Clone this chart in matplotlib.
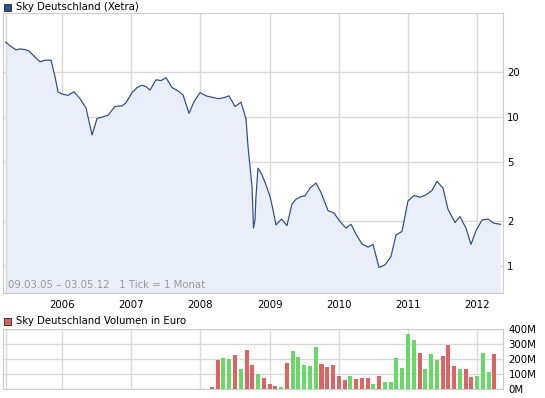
import numpy as np
import matplotlib
matplotlib.use("Agg")
import matplotlib.pyplot as plt
from matplotlib.patches import Rectangle

# price (decimal year, EUR)
price_t = [2005.186, 2005.249, 2005.335, 2005.393, 2005.480, 2005.523, 2005.610, 2005.682,
           2005.754, 2005.841, 2005.899, 2005.942, 2006.000, 2006.087, 2006.173, 2006.260,
           2006.347, 2006.434, 2006.506, 2006.578, 2006.665, 2006.766, 2006.867, 2006.925,
           2007.012, 2007.084, 2007.156, 2007.214, 2007.272, 2007.358, 2007.431, 2007.503,
           2007.590, 2007.676, 2007.749, 2007.835, 2007.908, 2007.994, 2008.081, 2008.168,
           2008.254, 2008.341, 2008.413, 2008.500, 2008.587, 2008.659, 2008.688, 2008.717,
           2008.746, 2008.767, 2008.789, 2008.803, 2008.832, 2008.890, 2008.948, 2009.006,
           2009.049, 2009.092, 2009.172, 2009.251, 2009.324, 2009.382, 2009.454, 2009.512,
           2009.584, 2009.671, 2009.743, 2009.844, 2009.931, 2010.017, 2010.104, 2010.176,
           2010.249, 2010.335, 2010.422, 2010.494, 2010.581, 2010.668, 2010.754, 2010.827,
           2010.913, 2011.000, 2011.087, 2011.173, 2011.260, 2011.347, 2011.419, 2011.506,
           2011.578, 2011.679, 2011.751, 2011.838, 2011.910, 2011.983, 2012.069, 2012.156,
           2012.243, 2012.336]
price = [31.9, 30.1, 28.3, 28.7, 28.3, 27.8, 25.3, 23.5,
         24.1, 24.1, 18.7, 14.8, 14.3, 14.0, 14.8, 13.3,
         11.5, 7.6, 9.8, 10.0, 10.3, 11.8, 11.9, 12.5,
         14.6, 15.8, 16.4, 16.0, 15.2, 17.8, 17.6, 18.4,
         15.8, 15.0, 14.1, 10.6, 12.7, 14.6, 13.9, 13.6,
         13.3, 13.5, 13.9, 11.8, 12.6, 9.7, 6.35, 4.66,
         3.43, 1.80, 2.04, 2.93, 4.55, 4.10, 3.51, 2.93,
         2.39, 1.89, 2.07, 1.87, 2.62, 2.81, 2.93, 2.96,
         3.34, 3.61, 3.12, 2.36, 2.27, 1.99, 1.80, 1.91,
         1.64, 1.41, 1.34, 1.40, 0.98, 1.02, 1.16, 1.62,
         1.71, 2.74, 2.98, 2.90, 3.01, 3.22, 3.70, 3.34,
         2.41, 1.96, 2.15, 1.80, 1.40, 1.73, 2.04, 2.07,
         1.94, 1.91]

# monthly volume in million EUR, Mar 2008 .. Apr 2012, up = 1 (green) / down = 0 (red)
vol_start = (2008, 3)
volume = [13, 195, 208, 202, 228, 135, 262, 162, 100, 73, 33, 20, 13, 175, 255, 213, 162, 155, 282,
          168, 148, 162, 88, 62, 88, 68, 75, 75, 35, 88, 48, 48, 208, 142, 370, 330, 242, 135,
          235, 195, 222, 295, 155, 135, 135, 82, 88, 242, 115, 235]
vol_up = [0, 0, 1, 1, 0, 1, 0, 0, 1, 0, 0, 0, 1, 0, 1, 1, 1, 1, 1,
          0, 0, 0, 0, 0, 1, 0, 0, 0, 1, 0, 1, 1, 1, 1, 1, 1, 0, 1,
          1, 1, 0, 0, 0, 1, 0, 0, 1, 1, 1, 0]

years = [2006, 2007, 2008, 2009, 2010, 2011, 2012]
price_ticks = [1, 2, 5, 10, 20]
vol_ticks = [0, 100, 200, 300, 400]

LINE = "#2b4a8e"
FILL = "#e9eef9"
GRID = "#d9d9d9"
RED = "#dc6464"
GREEN = "#68d868"
plt.rcParams["font.family"] = "DejaVu Sans"
plt.rcParams["font.size"] = 7

W, H = 545, 398
fig = plt.figure(figsize=(W / 100, H / 100), dpi=100)


def px_axes(left, top, right, bottom):
    return fig.add_axes([left / W, 1 - bottom / H, (right - left) / W, (bottom - top) / H])


xlim = (2005.147, 2012.373)

# --- price panel ---
ax = px_axes(3, 13, 503, 293)
ax.set_yscale("log")
ax.set_ylim(0.66, 50)
ax.set_xlim(*xlim)
ax.fill_between(price_t, price, 0.01, color=FILL, lw=0, zorder=1)
ax.plot(price_t, price, color=LINE, lw=0.85, zorder=3)
ax.set_xticks(years)
ax.set_xticklabels([str(y) for y in years])
ax.set_yticks(price_ticks)
ax.set_yticklabels([str(v) for v in price_ticks])
ax.yaxis.set_minor_locator(matplotlib.ticker.NullLocator())
ax.yaxis.tick_right()
ax.tick_params(axis="both", length=0, labelsize=7.3, colors="black")
ax.tick_params(axis="y", pad=3)
ax.tick_params(axis="x", pad=5)
ax.grid(True, color=GRID, lw=1, zorder=2)
ax.axvline(price_t[0], color=GRID, lw=1, zorder=2)
for s in ax.spines.values():
    s.set_color("#cccccc")
ax.set_axisbelow(True)
ax.text(0.01, 0.012, "09.03.05 \u2013 03.05.12   1 Tick = 1 Monat", transform=ax.transAxes,
        color="#999999", fontsize=7.3, va="bottom", ha="left")

# --- volume panel ---
vx = [vol_start[0] + (vol_start[1] - 1 + i) / 12 for i in range(len(volume))]
bx = px_axes(3, 329, 503, 389)
bx.set_xlim(*xlim)
bx.set_ylim(0, 400)
bx.bar(vx, volume, width=0.058, color=[GREEN if u else RED for u in vol_up], zorder=3)
bx.set_xticks(years)
bx.set_xticklabels([])
bx.set_yticks(vol_ticks)
bx.set_yticklabels([f"{v}M" for v in vol_ticks])
bx.yaxis.tick_right()
bx.tick_params(axis="both", length=0, labelsize=7.3)
bx.tick_params(axis="y", pad=4)
bx.grid(True, color=GRID, lw=1, zorder=1)
bx.axvline(price_t[0], color=GRID, lw=1, zorder=1)
for s in bx.spines.values():
    s.set_color("#cccccc")

# titles with square markers
fig.patches.append(Rectangle((4 / W, 1 - 11 / H), 7 / W, 7 / H, transform=fig.transFigure,
                             facecolor="#2f4f8f", edgecolor="#222222", lw=0.6))
fig.text(16 / W, 1 - 7.5 / H, "Sky Deutschland (Xetra)", va="center", ha="left", fontsize=7.3)
fig.patches.append(Rectangle((4 / W, 1 - 325 / H), 7 / W, 7 / H, transform=fig.transFigure,
                             facecolor=RED, edgecolor="#222222", lw=0.6))
fig.text(16 / W, 1 - 321.5 / H, "Sky Deutschland Volumen in Euro", va="center", ha="left", fontsize=7.3)

fig.savefig("out.png", dpi=100)
